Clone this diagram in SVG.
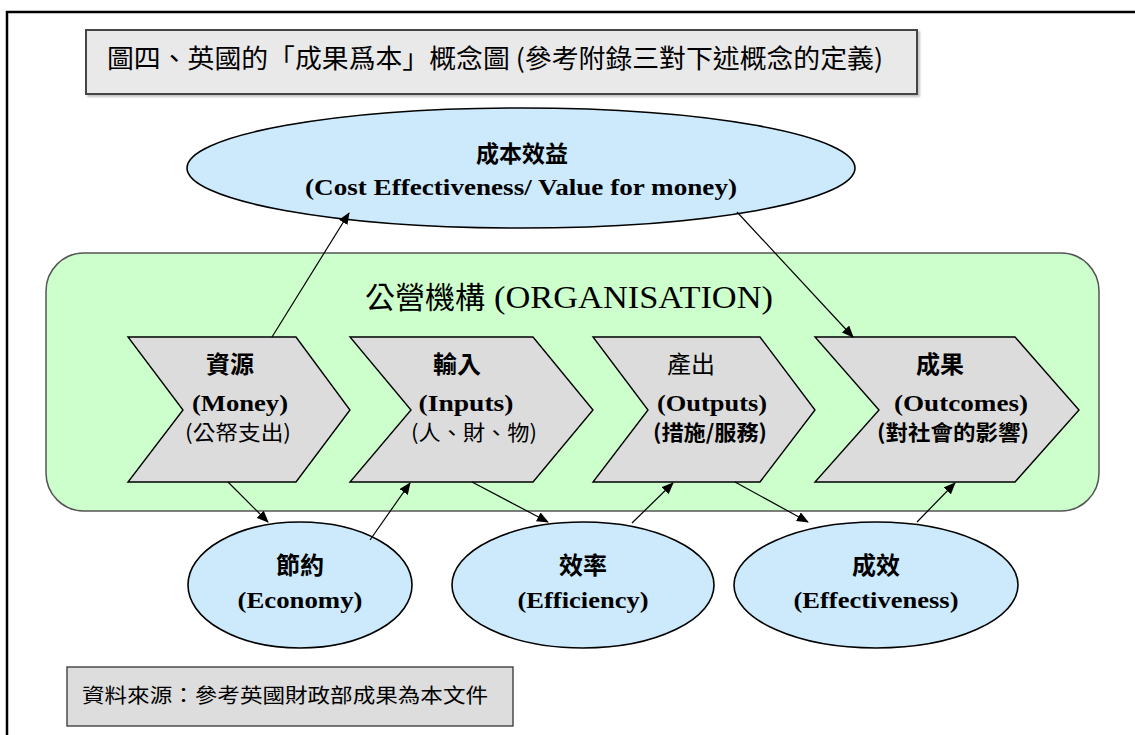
<svg xmlns="http://www.w3.org/2000/svg" width="1135" height="735" viewBox="0 0 1135 735">
<defs>
<style>
.cjk{font-family:"Noto Sans CJK TC","Noto Sans CJK SC",sans-serif;}
.en{font-family:"Liberation Serif","Noto Sans CJK TC",serif;font-weight:bold;}
.mid{text-anchor:middle;fill:#000;}
.oval{fill:#cceafc;stroke:#000;stroke-width:1.6;}
.chev{fill:#dcdcdc;stroke:#000;stroke-width:1.4;}
.conn line{stroke:#000;stroke-width:1.2;marker-end:url(#arr);}
</style>
<marker id="arr" markerWidth="12" markerHeight="10" refX="11" refY="5" orient="auto" markerUnits="userSpaceOnUse">
<path d="M0,0 L12,5 L0,10 z" fill="#000"/>
</marker>
<filter id="sh" x="-5%" y="-10%" width="115%" height="130%">
<feDropShadow dx="2" dy="2" stdDeviation="1" flood-color="#999" flood-opacity="0.6"/>
</filter>
</defs>
<rect width="1135" height="735" fill="#fff"/>
<path d="M7,735 V12 H1135" fill="none" stroke="#000" stroke-width="2.5"/>

<g id="title">
<rect x="86" y="30" width="831" height="64" fill="#e9e9e9" stroke="#444" stroke-width="2" filter="url(#sh)"/>
<text x="107" y="68" class="cjk" font-size="26" textLength="776" lengthAdjust="spacingAndGlyphs">圖四、英國的「成果爲本」概念圖 (參考附錄三對下述概念的定義)</text>
</g>

<g id="cost-effectiveness">
<ellipse cx="521" cy="168" rx="334" ry="60" class="oval"/>
<text x="522" y="162" class="cjk mid" font-weight="bold" font-size="23">成本效益</text>
<text x="521" y="195" class="en mid" font-size="23" textLength="432" lengthAdjust="spacingAndGlyphs">(Cost Effectiveness/ Value for money)</text>
</g>

<g id="organisation">
<rect x="46" y="253" width="1053" height="258" rx="38" ry="38" fill="#ccffcc" stroke="#555" stroke-width="1.5"/>
<text x="365" y="308" class="cjk" font-size="30" textLength="120" lengthAdjust="spacingAndGlyphs">公營機構</text>
<text x="494" y="308" font-family="Liberation Serif,serif" font-size="31" textLength="279" lengthAdjust="spacingAndGlyphs">(ORGANISATION)</text>
</g>

<g id="money">
<polygon points="128,337 296,337 350,410 296,482 128,482 183,410" class="chev"/>
<text x="230" y="373" class="cjk mid" font-weight="bold" font-size="24">資源</text>
<text x="240" y="411" class="en mid" font-size="24" textLength="96" lengthAdjust="spacingAndGlyphs">(Money)</text>
<text x="238" y="440" class="cjk mid" font-size="21" textLength="106" lengthAdjust="spacingAndGlyphs">(公帑支出)</text>
</g>

<g id="inputs">
<polygon points="350,337 533,337 593,410 533,482 350,482 411,410" class="chev"/>
<text x="457" y="373" class="cjk mid" font-weight="bold" font-size="24">輸入</text>
<text x="466" y="411" class="en mid" font-size="24" textLength="95" lengthAdjust="spacingAndGlyphs">(Inputs)</text>
<text x="474" y="440" class="cjk mid" font-size="21" textLength="126" lengthAdjust="spacingAndGlyphs">(人、財、物)</text>
</g>

<g id="outputs">
<polygon points="593,337 760,337 815,410 760,482 593,482 648,410" class="chev"/>
<text x="691" y="373" class="cjk mid" font-size="24">產出</text>
<text x="712" y="411" class="en mid" font-size="24" textLength="110" lengthAdjust="spacingAndGlyphs">(Outputs)</text>
<text x="710" y="440" class="cjk mid" font-size="21" font-weight="bold" textLength="114" lengthAdjust="spacingAndGlyphs">(措施/服務)</text>
</g>

<g id="outcomes">
<polygon points="815,337 1015,337 1079,410 1015,482 815,482 879,410" class="chev"/>
<text x="940" y="373" class="cjk mid" font-weight="bold" font-size="24">成果</text>
<text x="961" y="411" class="en mid" font-size="24" textLength="134" lengthAdjust="spacingAndGlyphs">(Outcomes)</text>
<text x="953" y="440" class="cjk mid" font-size="21" font-weight="bold" textLength="152" lengthAdjust="spacingAndGlyphs">(對社會的影響)</text>
</g>

<g id="economy">
<ellipse cx="300" cy="585" rx="112" ry="63" class="oval"/>
<text x="300" y="574" class="cjk mid" font-weight="bold" font-size="24">節約</text>
<text x="300" y="608" class="en mid" font-size="24" textLength="125" lengthAdjust="spacingAndGlyphs">(Economy)</text>
</g>

<g id="efficiency">
<ellipse cx="583" cy="585" rx="131" ry="63" class="oval"/>
<text x="583" y="574" class="cjk mid" font-weight="bold" font-size="24">效率</text>
<text x="583" y="608" class="en mid" font-size="24" textLength="131" lengthAdjust="spacingAndGlyphs">(Efficiency)</text>
</g>

<g id="effectiveness">
<ellipse cx="876" cy="585" rx="142" ry="63" class="oval"/>
<text x="876" y="574" class="cjk mid" font-weight="bold" font-size="24">成效</text>
<text x="876" y="608" class="en mid" font-size="24" textLength="165" lengthAdjust="spacingAndGlyphs">(Effectiveness)</text>
</g>

<g id="source">
<rect x="67" y="667" width="446" height="59" fill="#dddddd" stroke="#333" stroke-width="1.3"/>
<text x="82" y="703" class="cjk" font-size="20" textLength="406" lengthAdjust="spacingAndGlyphs">資料來源：參考英國財政部成果為本文件</text>
</g>

<g class="conn" id="connectors">
<line x1="272" y1="337" x2="349" y2="213"/>
<line x1="737" y1="212" x2="853" y2="337"/>
<line x1="228" y1="482" x2="268" y2="522"/>
<line x1="370" y1="540" x2="410" y2="483"/>
<line x1="472" y1="482" x2="548" y2="522"/>
<line x1="632" y1="523" x2="673" y2="483"/>
<line x1="735" y1="482" x2="808" y2="522"/>
<line x1="917" y1="522" x2="955" y2="483"/>
</g>
</svg>
